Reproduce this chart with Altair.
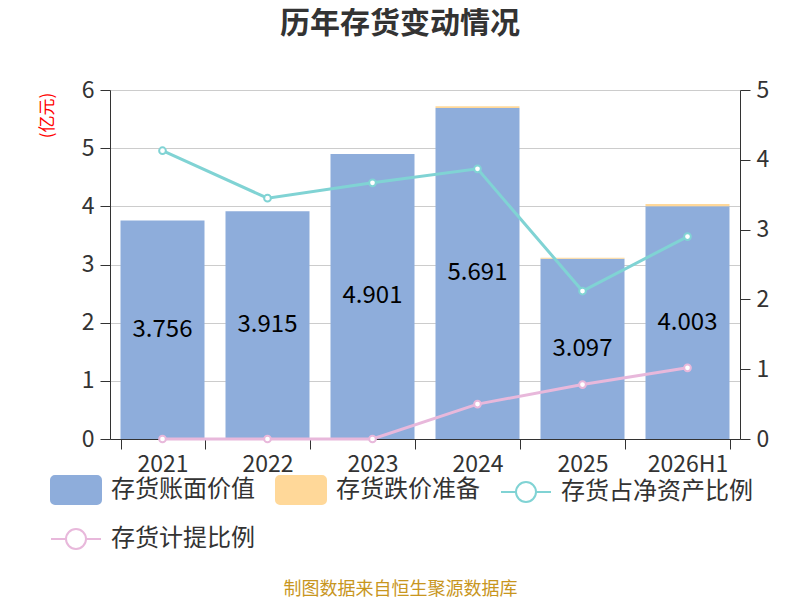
import altair as alt
import pandas as pd

years = ["2021", "2022", "2023", "2024", "2025", "2026H1"]
book_value = [3.756, 3.915, 4.901, 5.691, 3.097, 4.003]
reserve = [0.0, 0.0, 0.0, 0.03, 0.02, 0.035]
ratio_net = [4.13, 3.45, 3.67, 3.87, 2.12, 2.90]
ratio_prov = [0.0, 0.0, 0.0, 0.50, 0.78, 1.02]

series = ["存货账面价值", "存货跌价准备", "存货占净资产比例", "存货计提比例"]
stroke_colors = ["#8EADDB", "#FFD899", "#80D3D4", "#E8B8DB"]
fill_colors = ["#8EADDB", "#FFD899", "#FFFFFF", "#FFFFFF"]

FONT = "Noto Sans CJK SC"

bar_rows = []
for i, y in enumerate(years):
    bar_rows.append({"year": y, "series": series[0], "value": book_value[i], "idx": 0})
    bar_rows.append({"year": y, "series": series[1], "value": reserve[i], "idx": 1})
bars_df = pd.DataFrame(bar_rows)

line_rows = []
for i, y in enumerate(years):
    line_rows.append({"year": y, "series": series[2], "value": ratio_net[i]})
    line_rows.append({"year": y, "series": series[3], "value": ratio_prov[i]})
lines_df = pd.DataFrame(line_rows)

RECT = ("M-0.84,-0.56 H0.84 A0.16,0.16 0 0 1 1,-0.4 V0.4 A0.16,0.16 0 0 1 0.84,0.56 "
        "H-0.84 A0.16,0.16 0 0 1 -1,0.4 V-0.4 A0.16,0.16 0 0 1 -0.84,-0.56 Z")
LINE = ("M-1,0 H-0.4 M0.4,0 H1 M0.4,0 A0.4,0.4 0 1 1 -0.4,0 A0.4,0.4 0 1 1 0.4,0 Z")

legend = alt.Legend(
    orient="none", legendX=-60, legendY=374, direction="horizontal", columns=3,
    title=None, labelFontSize=24, labelColor="#333333", labelFont=FONT, labelLimit=400,
    symbolSize=2500, labelOffset=9, columnPadding=17, rowPadding=5,
    symbolStrokeWidth=2, symbolOpacity=1,
)

fill = alt.Fill("series:N", scale=alt.Scale(domain=series, range=fill_colors), legend=legend)
stroke = alt.Stroke("series:N", scale=alt.Scale(domain=series, range=stroke_colors), legend=legend)
shape = alt.Shape("series:N", scale=alt.Scale(domain=series, range=[RECT, RECT, LINE, LINE]),
                  legend=legend)

x = alt.X("year:N", sort=years,
          scale=alt.Scale(paddingInner=0.2, paddingOuter=0.1),
          axis=alt.Axis(title="制图数据来自恒生聚源数据库", titleColor="#C8961E",
                        titleFontSize=18, titleFontWeight="normal", titleFont=FONT,
                        titleX=290, titleY=150, titleBaseline="middle",
                        labelAngle=0, labelFontSize=23, labelColor="#333333",
                        labelFont=FONT, tickBand="extent", tickSize=10,
                        domainColor="#333333", tickColor="#333333", labelPadding=4))

bars = alt.Chart(bars_df).mark_bar().encode(
    x=x,
    y=alt.Y("value:Q", stack="zero",
            scale=alt.Scale(domain=[0, 6], nice=False),
            axis=alt.Axis(values=[0, 1, 2, 3, 4, 5, 6], format="d", title="(亿元)",
                          titleColor="#FF0000",
                          titleFontSize=17, titleFontWeight="normal", titleFont=FONT,
                          titleAngle=270, titleX=-63, titleY=25, titleAlign="center",
                          titleBaseline="middle",
                          labelFontSize=23, labelColor="#333333", labelFont=FONT,
                          labelPadding=6,
                          grid=True, gridColor="#CCCCCC", tickSize=10,
                          domainColor="#333333", tickColor="#333333")),
    fill=fill,
    order=alt.Order("idx:Q"),
)

labels = alt.Chart(bars_df).transform_filter(
    alt.datum.idx == 0
).transform_calculate(
    mid="datum.value / 2"
).mark_text(fontSize=24, color="#000000", font=FONT, baseline="middle").encode(
    x=alt.X("year:N", sort=years),
    y=alt.Y("mid:Q", stack=None),
    text=alt.Text("value:Q", format=".3f"),
)

left = alt.layer(bars, labels)

right_y = alt.Y("value:Q", scale=alt.Scale(domain=[0, 5], nice=False),
                axis=alt.Axis(orient="right", values=[0, 1, 2, 3, 4, 5], format="d", title=None,
                              labelFontSize=23, labelColor="#333333", labelFont=FONT,
                              labelPadding=6,
                              grid=False, tickSize=10,
                              domainColor="#333333", tickColor="#333333"))

lines = alt.Chart(lines_df).mark_line(strokeWidth=3).encode(
    x=alt.X("year:N", sort=years),
    y=right_y,
    stroke=stroke,
)
points = alt.Chart(lines_df).mark_point(filled=True, size=45, strokeWidth=2, opacity=1).encode(
    x=alt.X("year:N", sort=years),
    y=alt.Y("value:Q"),
    fill=fill,
    stroke=stroke,
)
legend_helper = alt.Chart(lines_df).transform_filter("false").mark_point(filled=True).encode(
    x=alt.X("year:N", sort=years),
    y=alt.Y("value:Q"),
    fill=fill,
    stroke=stroke,
    shape=shape,
)
right = alt.layer(lines, points, legend_helper)

chart = alt.layer(left, right).resolve_scale(y="independent").properties(
    width=630, height=349,
    autosize=alt.AutoSizeParams(type="none"),
    padding={"left": 102, "top": 82, "right": 40, "bottom": 159},
    title=alt.TitleParams("历年存货变动情况", fontSize=30, fontWeight="bold",
                          color="#333333", font=FONT, anchor="middle", dx=-25, offset=40),
).configure_view(stroke=None).configure_axis(labelFont=FONT)

chart.save("out.html", embed_options={"renderer": "svg", "actions": False})
